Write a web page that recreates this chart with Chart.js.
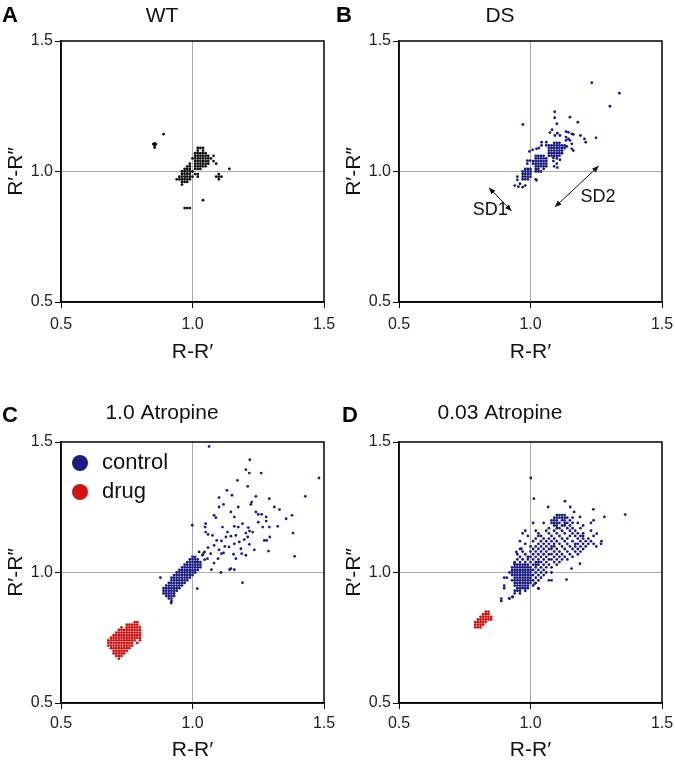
<!DOCTYPE html>
<html lang="en">
  <head>
    <meta charset="UTF-8" />
    <title>Poincaré plots</title>
    <script src="https://cdn.jsdelivr.net/npm/chart.js"></script>
    <style>
      * { margin: 0; padding: 0; }
      body { background: #fff; width: 675px; height: 772px; position: relative; overflow: hidden;
             font-family: 'Liberation Sans', Arial, sans-serif; }
      canvas { position: absolute; }
      .letter { position: absolute; font-size: 22px; line-height: 22px; font-weight: bold; color: #000; z-index: 2; }
    </style>
  </head>
  <body>
    <canvas id="panelA" width="337" height="375" style="left:0;top:0"></canvas>
    <canvas id="panelB" width="337" height="375" style="left:338px;top:0"></canvas>
    <canvas id="panelC" width="337" height="376" style="left:0;top:396px"></canvas>
    <canvas id="panelD" width="337" height="376" style="left:338px;top:396px"></canvas>

    <div class="letter" style="left:2px;top:4px">A</div>
    <div class="letter" style="left:336px;top:4px">B</div>
    <div class="letter" style="left:2px;top:404px">C</div>
    <div class="letter" style="left:342px;top:404px">D</div>

    <script>
      // ---- data ----
      // rows: [R'-R'' value, [R-R' values on that row]]
      const wtRows = [
        [1.09, [1.02, 1.03, 1.04]],
        [1.08, [1.02, 1.04]],
        [1.07, [1.01, 1.02, 1.03, 1.04, 1.05]],
        [1.06, [1.01, 1.02, 1.03, 1.04, 1.05, 1.06, 1.08]],
        [1.05, [1.0, 1.01, 1.02, 1.03, 1.04, 1.05, 1.06, 1.07]],
        [1.04, [1.01, 1.02, 1.03, 1.04, 1.05, 1.06, 1.08]],
        [1.03, [0.99, 1.01, 1.02, 1.03, 1.04, 1.05, 1.06, 1.09]],
        [1.02, [0.98, 0.99, 1.01, 1.02, 1.03, 1.04, 1.05]],
        [1.01, [0.97, 0.98, 0.99, 1.01, 1.02, 1.03, 1.14]],
        [1.0, [0.96, 0.97, 0.98, 0.99, 1.0]],
        [0.99, [0.96, 0.97, 0.98, 0.99, 1.01, 1.02, 1.1]],
        [0.98, [0.95, 0.96, 0.97, 0.98, 0.99, 1.0, 1.02, 1.09, 1.1, 1.11]],
        [0.97, [0.94, 0.95, 0.96, 0.97, 0.98, 0.99, 1.1]],
        [0.96, [0.96, 0.97, 0.98]],
        [0.95, [0.96]],
        [0.89, [1.04]],
        [0.86, [0.97, 0.98, 0.99]]
      ];
      const wtOutliers = [
        [0.89, 1.143], [0.851, 1.105], [0.856, 1.108], [0.856, 1.1], [0.861, 1.105], [0.856, 1.092]
      ];

      const dsRows = [
        [1.11, [1.09, 1.1, 1.11]],
        [1.1, [1.07, 1.08, 1.09, 1.1, 1.11, 1.12]],
        [1.09, [1.07, 1.08, 1.09, 1.1, 1.11, 1.12]],
        [1.08, [1.07, 1.08, 1.09, 1.1, 1.11, 1.12]],
        [1.07, [1.07, 1.08, 1.09, 1.1, 1.11, 1.12]],
        [1.06, [1.02, 1.03, 1.04, 1.05, 1.07, 1.08, 1.09, 1.1, 1.11]],
        [1.05, [1.02, 1.03, 1.04, 1.05, 1.06]],
        [1.04, [1.01, 1.02, 1.03, 1.04, 1.05, 1.06]],
        [1.03, [1.01, 1.02, 1.03, 1.04, 1.05, 1.06]],
        [1.02, [1.02, 1.03, 1.04, 1.05, 1.06]],
        [1.01, [0.98, 0.99, 1.0, 1.02, 1.03, 1.05]],
        [1.0, [0.97, 0.98, 0.99, 1.0, 1.02, 1.03, 1.04]],
        [0.99, [0.97, 0.98, 0.99, 1.0]],
        [0.98, [0.97, 0.98, 0.99, 1.0]],
        [0.97, [0.97, 0.98, 0.99, 1.02]]
      ];
      const dsScatter = [
        [0.95, 0.98], [0.95, 0.968], [0.96, 0.953], [0.94, 0.946], [0.954, 0.942], [0.97, 0.94], [0.98, 0.946],
        [1.023, 0.966], [0.988, 1.03], [0.988, 1.042], [0.998, 1.042], [0.996, 1.077], [1.008, 1.083],
        [1.023, 1.087], [1.032, 1.09], [1.042, 1.1], [1.042, 1.112], [1.06, 1.1], [1.06, 1.112],
        [1.087, 1.052], [1.1, 1.05], [1.112, 1.045], [1.087, 1.04], [1.1, 1.03], [1.09, 1.02], [1.102, 1.015],
        [1.135, 1.119], [1.15, 1.119], [1.157, 1.106], [1.138, 1.096], [1.157, 1.087], [1.163, 1.08],
        [1.135, 1.132], [1.144, 1.125], [1.13, 1.1], [1.13, 1.09],
        [1.092, 1.229], [1.092, 1.206], [1.1, 1.183], [1.074, 1.149], [1.082, 1.16], [1.102, 1.147],
        [1.112, 1.138], [1.093, 1.138], [1.135, 1.153], [1.144, 1.15], [1.157, 1.144], [1.163, 1.142],
        [1.15, 1.208], [1.18, 1.189], [1.19, 1.138], [1.205, 1.125], [1.21, 1.112], [1.249, 1.129],
        [1.233, 1.34], [1.338, 1.3], [1.302, 1.25], [0.971, 1.18]
      ];

      const ctrlRows = [
        [1.06, [1.0, 1.01]],
        [1.05, [0.99, 1.0, 1.01, 1.02]],
        [1.04, [0.98, 0.99, 1.0, 1.01, 1.02, 1.03]],
        [1.03, [0.97, 0.98, 0.99, 1.0, 1.01, 1.02, 1.03]],
        [1.02, [0.96, 0.97, 0.98, 0.99, 1.0, 1.01, 1.02, 1.03]],
        [1.01, [0.95, 0.96, 0.97, 0.98, 0.99, 1.0, 1.01, 1.02]],
        [1.0, [0.94, 0.95, 0.96, 0.97, 0.98, 0.99, 1.0, 1.01]],
        [0.99, [0.93, 0.94, 0.95, 0.96, 0.97, 0.98, 0.99, 1.0]],
        [0.98, [0.92, 0.93, 0.94, 0.95, 0.96, 0.97, 0.98, 0.99]],
        [0.97, [0.92, 0.93, 0.94, 0.95, 0.96, 0.97, 0.98]],
        [0.96, [0.91, 0.92, 0.93, 0.94, 0.95, 0.96, 0.97]],
        [0.95, [0.9, 0.91, 0.92, 0.93, 0.94, 0.95, 0.96]],
        [0.94, [0.89, 0.9, 0.91, 0.92, 0.93, 0.94, 0.95]],
        [0.93, [0.89, 0.9, 0.91, 0.92, 0.93, 0.94]],
        [0.92, [0.89, 0.9, 0.91, 0.92, 0.93]],
        [0.91, [0.9, 0.91, 0.92, 0.93]],
        [0.9, [0.91, 0.92]],
        [0.89, [0.92]]
      ];
      const ctrlScatter = [
        [1.063, 1.483], [1.218, 1.432], [1.203, 1.394], [1.216, 1.381], [1.261, 1.381], [1.171, 1.353],
        [1.21, 1.33], [1.131, 1.315], [1.481, 1.362], [1.429, 1.292], [1.101, 1.287], [1.118, 1.261],
        [1.15, 1.296], [1.241, 1.292], [1.292, 1.283], [1.225, 1.27], [1.222, 1.261], [1.174, 1.251],
        [1.101, 1.251], [1.311, 1.251], [1.331, 1.241], [1.082, 1.219], [1.089, 1.21], [1.05, 1.187],
        [1.048, 1.174], [1.05, 1.155], [1.059, 1.146], [0.999, 1.181], [1.146, 1.232], [1.159, 1.213],
        [1.159, 1.177], [1.174, 1.174], [1.165, 1.142], [1.241, 1.232], [1.25, 1.223], [1.263, 1.223],
        [1.28, 1.213], [1.28, 1.197], [1.25, 1.193], [1.267, 1.174], [1.292, 1.174], [1.324, 1.177],
        [1.356, 1.206], [1.378, 1.219], [1.382, 1.151], [1.388, 1.062], [1.212, 1.172], [1.217, 1.159],
        [1.21, 1.136], [1.197, 1.126], [1.216, 1.108], [1.235, 1.087], [1.203, 1.066], [1.165, 1.053],
        [1.159, 1.011], [1.141, 1.011], [1.273, 1.123], [1.282, 1.123], [1.294, 1.136], [1.289, 1.082],
        [1.19, 0.961], [1.076, 1.142], [1.092, 1.123], [1.11, 1.121], [1.082, 1.104], [1.101, 1.087],
        [1.118, 1.075], [1.059, 1.095], [1.046, 1.079], [1.038, 1.066], [1.108, 1.0], [1.072, 1.011],
        [1.146, 1.015], [1.097, 1.053], [1.057, 1.053], [1.11, 1.072], [1.139, 1.098], [1.159, 1.11],
        [1.184, 1.091], [1.187, 1.072], [1.156, 1.07], [1.133, 1.155], [1.114, 1.174], [1.127, 1.136],
        [1.146, 1.139], [1.178, 1.117], [1.203, 1.151], [1.229, 1.155], [1.19, 1.187], [1.123, 1.1],
        [1.025, 1.079], [1.018, 1.04], [1.041, 1.072], [1.046, 1.049], [1.069, 1.072], [1.082, 1.036],
        [1.018, 0.938], [0.878, 0.98], [0.919, 0.883]
      ];
      const drugRows = [
        [0.81, [0.78, 0.79]],
        [0.8, [0.75, 0.76, 0.77, 0.78, 0.79]],
        [0.79, [0.73, 0.75, 0.76, 0.77, 0.78, 0.79, 0.8]],
        [0.78, [0.72, 0.73, 0.74, 0.75, 0.76, 0.77, 0.78, 0.79, 0.8]],
        [0.77, [0.71, 0.72, 0.73, 0.74, 0.75, 0.76, 0.77, 0.78, 0.79, 0.8]],
        [0.76, [0.7, 0.71, 0.72, 0.73, 0.74, 0.75, 0.76, 0.77, 0.78, 0.79, 0.8]],
        [0.75, [0.69, 0.7, 0.71, 0.72, 0.73, 0.74, 0.75, 0.76, 0.77, 0.78, 0.79, 0.8]],
        [0.74, [0.68, 0.69, 0.7, 0.71, 0.72, 0.73, 0.74, 0.75, 0.76, 0.77, 0.78, 0.8]],
        [0.73, [0.68, 0.69, 0.7, 0.71, 0.72, 0.73, 0.74, 0.75, 0.76, 0.77, 0.79]],
        [0.72, [0.68, 0.69, 0.7, 0.71, 0.72, 0.73, 0.74, 0.75, 0.76, 0.77]],
        [0.71, [0.69, 0.7, 0.71, 0.72, 0.73, 0.74, 0.75, 0.76]],
        [0.7, [0.7, 0.71, 0.72, 0.73, 0.74, 0.75]],
        [0.69, [0.7, 0.71, 0.72, 0.73, 0.74]],
        [0.68, [0.71, 0.72, 0.73]],
        [0.67, [0.72]]
      ];

      const lowCtrlRows = [
        [1.22, [1.1, 1.11, 1.12, 1.13]],
        [1.21, [1.09, 1.1, 1.11, 1.12, 1.13, 1.14, 1.16]],
        [1.2, [1.08, 1.09, 1.1, 1.12, 1.13, 1.15, 1.24]],
        [1.19, [1.01, 1.05, 1.08, 1.09, 1.1, 1.11, 1.13, 1.14, 1.16, 1.18, 1.23]],
        [1.18, [1.09, 1.1, 1.12, 1.13, 1.15, 1.2]],
        [1.17, [1.07, 1.1, 1.11, 1.14, 1.16, 1.19]],
        [1.16, [0.98, 1.02, 1.06, 1.09, 1.12, 1.15, 1.17, 1.23]],
        [1.15, [0.97, 1.03, 1.07, 1.1, 1.13, 1.16, 1.18, 1.2]],
        [1.14, [0.99, 1.03, 1.04, 1.08, 1.11, 1.15, 1.17, 1.19, 1.2, 1.24]],
        [1.13, [1.02, 1.05, 1.07, 1.09, 1.12, 1.14, 1.18, 1.2, 1.22]],
        [1.12, [0.96, 1.01, 1.04, 1.06, 1.08, 1.1, 1.13, 1.16, 1.19, 1.21, 1.23, 1.27]],
        [1.11, [0.98, 1.03, 1.05, 1.07, 1.09, 1.11, 1.14, 1.17, 1.18, 1.2, 1.22, 1.24]],
        [1.1, [1.0, 1.02, 1.04, 1.06, 1.08, 1.09, 1.12, 1.15, 1.17, 1.19, 1.21, 1.25]],
        [1.09, [0.96, 1.01, 1.03, 1.05, 1.07, 1.08, 1.1, 1.13, 1.16, 1.18, 1.2]],
        [1.08, [0.97, 1.0, 1.02, 1.04, 1.06, 1.09, 1.11, 1.14, 1.17, 1.19]],
        [1.07, [0.95, 0.98, 1.01, 1.03, 1.05, 1.07, 1.08, 1.1, 1.12, 1.15, 1.18]],
        [1.06, [0.96, 0.99, 1.0, 1.02, 1.04, 1.06, 1.09, 1.11, 1.13, 1.16]],
        [1.05, [0.95, 0.97, 0.99, 1.01, 1.03, 1.05, 1.07, 1.08, 1.1, 1.12, 1.14]],
        [1.04, [0.94, 0.96, 0.98, 1.0, 1.02, 1.03, 1.04, 1.06, 1.09, 1.11]],
        [1.03, [0.94, 0.95, 0.96, 0.97, 0.98, 0.99, 1.01, 1.02, 1.03, 1.05, 1.07, 1.1]],
        [1.02, [0.93, 0.94, 0.95, 0.96, 0.97, 0.98, 0.99, 1.0, 1.02, 1.04, 1.06, 1.08]],
        [1.01, [0.93, 0.94, 0.95, 0.96, 0.97, 0.98, 0.99, 1.0, 1.01, 1.03, 1.05]],
        [1.0, [0.92, 0.93, 0.94, 0.95, 0.96, 0.97, 0.98, 0.99, 1.0, 1.02, 1.04, 1.06, 1.08]],
        [0.99, [0.93, 0.94, 0.95, 0.96, 0.97, 0.98, 0.99, 1.0, 1.01, 1.03, 1.05]],
        [0.98, [0.9, 0.91, 0.94, 0.95, 0.96, 0.97, 0.98, 0.99, 1.0, 1.02, 1.04]],
        [0.97, [0.93, 0.94, 0.95, 0.96, 0.97, 0.98, 0.99, 1.0, 1.01, 1.03, 1.07, 1.08]],
        [0.96, [0.94, 0.95, 0.96, 0.97, 0.98, 0.99, 1.0, 1.02]],
        [0.95, [0.9, 0.94, 0.95, 0.96, 0.97, 0.98, 0.99, 1.01]],
        [0.94, [0.9, 0.95, 0.96, 0.97, 0.98, 0.99, 1.03]],
        [0.93, [0.94, 0.95, 0.96, 0.98]],
        [0.92, [0.94, 0.96]]
      ];
      const lowCtrlScatter = [
        [1.001, 1.362], [1.013, 1.283], [1.131, 1.273], [1.36, 1.222], [1.281, 1.213], [1.239, 1.242],
        [1.151, 1.251], [1.166, 1.232], [1.188, 1.213], [1.067, 1.251], [0.889, 0.9], [0.889, 0.891],
        [0.92, 0.9], [0.933, 0.906], [0.919, 0.901], [0.931, 0.907], [1.268, 1.11], [1.252, 1.149],
        [1.188, 1.034], [1.156, 1.015], [1.137, 0.973], [1.031, 0.938], [1.016, 0.957], [0.939, 1.034],
        [0.946, 1.079], [0.965, 1.091]
      ];
      const lowDrugRows = [
        [0.85, [0.83, 0.84]],
        [0.84, [0.82, 0.83, 0.84]],
        [0.83, [0.81, 0.82, 0.83, 0.84, 0.85]],
        [0.82, [0.8, 0.81, 0.82, 0.83, 0.84, 0.85]],
        [0.81, [0.79, 0.8, 0.81, 0.82, 0.83]],
        [0.8, [0.79, 0.8, 0.81, 0.82]],
        [0.79, [0.79, 0.8, 0.81]]
      ];

      const tickValues = [0.5, 1.0, 1.5];
      const NAVY = '#1b1b82';
      const RED = '#d01414';

      // ---- helpers ----
      function fromRows(rows) {
        return rows.flatMap(([y, xs]) => xs.map(x => ({ x: x, y: y })));
      }
      function fromPairs(pairs) {
        return pairs.map(([x, y]) => ({ x: x, y: y }));
      }

      Chart.defaults.font.family = "'Liberation Sans', Arial, sans-serif";
      Chart.defaults.color = '#222';

      // box round the plot area (top and right edges too)
      const frame = {
        id: 'frame',
        afterDatasetsDraw(chart) {
          const { ctx, chartArea: a } = chart;
          ctx.save();
          ctx.strokeStyle = '#000';
          ctx.lineWidth = 1.5;
          ctx.strokeRect(a.left, a.top, a.right - a.left, a.bottom - a.top);
          ctx.restore();
        }
      };

      // legend drawn inside panel C
      const insideLegend = {
        id: 'insideLegend',
        afterDraw(chart) {
          const { ctx, chartArea: a } = chart;
          ctx.save();
          chart.data.datasets.forEach((ds, i) => {
            const y = a.top + 21 + i * 29;
            ctx.fillStyle = ds.backgroundColor;
            ctx.beginPath();
            ctx.arc(a.left + 19, y, 8, 0, Math.PI * 2);
            ctx.fill();
            ctx.fillStyle = '#111';
            ctx.font = "22px 'Liberation Sans', Arial, sans-serif";
            ctx.textBaseline = 'middle';
            ctx.fillText(ds.label, a.left + 41, y);
          });
          ctx.restore();
        }
      };

      // SD1 / SD2 double arrows on panel B
      const sdMarks = [
        { text: 'SD1', from: [0.842, 0.938], to: [0.928, 0.849], at: [0.847, 0.854] },
        { text: 'SD2', from: [1.093, 0.864], to: [1.259, 1.021], at: [1.257, 0.902] }
      ];
      const sdArrows = {
        id: 'sdArrows',
        afterDatasetsDraw(chart) {
          const { ctx } = chart;
          const sx = chart.scales.x, sy = chart.scales.y;
          ctx.save();
          ctx.strokeStyle = '#111';
          ctx.fillStyle = '#111';
          ctx.lineWidth = 1;
          sdMarks.forEach(m => {
            const x1 = sx.getPixelForValue(m.from[0]), y1 = sy.getPixelForValue(m.from[1]);
            const x2 = sx.getPixelForValue(m.to[0]), y2 = sy.getPixelForValue(m.to[1]);
            ctx.beginPath();
            ctx.moveTo(x1, y1);
            ctx.lineTo(x2, y2);
            ctx.stroke();
            [[x1, y1, x2, y2], [x2, y2, x1, y1]].forEach(([hx, hy, ox, oy]) => {
              const ang = Math.atan2(hy - oy, hx - ox);
              ctx.beginPath();
              ctx.moveTo(hx, hy);
              ctx.lineTo(hx - 7 * Math.cos(ang - 0.4), hy - 7 * Math.sin(ang - 0.4));
              ctx.lineTo(hx - 7 * Math.cos(ang + 0.4), hy - 7 * Math.sin(ang + 0.4));
              ctx.closePath();
              ctx.fill();
            });
            ctx.font = "18px 'Liberation Sans', Arial, sans-serif";
            ctx.textAlign = 'center';
            ctx.textBaseline = 'middle';
            ctx.fillText(m.text, sx.getPixelForValue(m.at[0]), sy.getPixelForValue(m.at[1]));
          });
          ctx.restore();
        }
      };

      function axis(label, horizontal, topRow) {
        return {
          type: 'linear',
          min: 0.5,
          max: 1.5,
          afterBuildTicks: s => { s.ticks = tickValues.map(v => ({ value: v })); },
          ticks: {
            callback: v => v.toFixed(1),
            font: { size: 16 },
            color: '#222',
            padding: horizontal ? (topRow ? 7 : 5) : 2,
            maxRotation: 0
          },
          grid: {
            color: c => (c.tick && c.tick.value === 1 ? '#ababab' : 'rgba(0,0,0,0)'),
            tickColor: '#000',
            tickLength: 6,
            lineWidth: 1
          },
          border: { color: '#000', width: 1.5 },
          title: {
            display: true,
            text: label,
            font: { size: 21 },
            color: '#111',
            padding: horizontal ? 0 : { top: 3.4, bottom: 0 }
          },
          afterFit: s => {
            if (horizontal) {
              s.height = topRow ? 62.6 : 60.3;
              // keep the end labels from widening the right margin
              s.paddingLeft = 12;
              s.paddingRight = 12;
            } else {
              s.width = 61;
            }
          }
        };
      }

      function makePanel(id, title, datasets, topRow, extra) {
        return new Chart(document.getElementById(id), {
          type: 'scatter',
          data: { datasets: datasets },
          options: {
            responsive: false,
            animation: false,
            events: [],
            layout: { padding: { left: 0, right: 13, top: 0, bottom: topRow ? 10.4 : 8.7 } },
            elements: { point: { radius: 1.4, borderWidth: 0, hoverRadius: 1.4 } },
            plugins: {
              legend: { display: false },
              tooltip: { enabled: false },
              title: {
                display: true,
                text: title,
                color: '#111',
                font: { size: 21, weight: 'normal' },
                padding: topRow ? { top: 3.4, bottom: 12.4 } : { top: 4.4, bottom: 16.4 }
              }
            },
            scales: {
              x: axis('R-R′', true, topRow),
              y: axis('R′-R″', false, topRow)
            }
          },
          plugins: [frame].concat(extra || [])
        });
      }

      makePanel('panelA', 'WT', [
        { label: 'WT', data: fromRows(wtRows).concat(fromPairs(wtOutliers)), backgroundColor: '#111' }
      ], true);

      makePanel('panelB', 'DS', [
        { label: 'DS', data: fromRows(dsRows).concat(fromPairs(dsScatter)), backgroundColor: NAVY }
      ], true, [sdArrows]);

      makePanel('panelC', '1.0 Atropine', [
        { label: 'control', data: fromRows(ctrlRows).concat(fromPairs(ctrlScatter)), backgroundColor: NAVY },
        { label: 'drug', data: fromRows(drugRows), backgroundColor: RED }
      ], false, [insideLegend]);

      makePanel('panelD', '0.03 Atropine', [
        { label: 'control', data: fromRows(lowCtrlRows).concat(fromPairs(lowCtrlScatter)), backgroundColor: NAVY },
        { label: 'drug', data: fromRows(lowDrugRows), backgroundColor: RED }
      ], false);
    </script>
  </body>
</html>
